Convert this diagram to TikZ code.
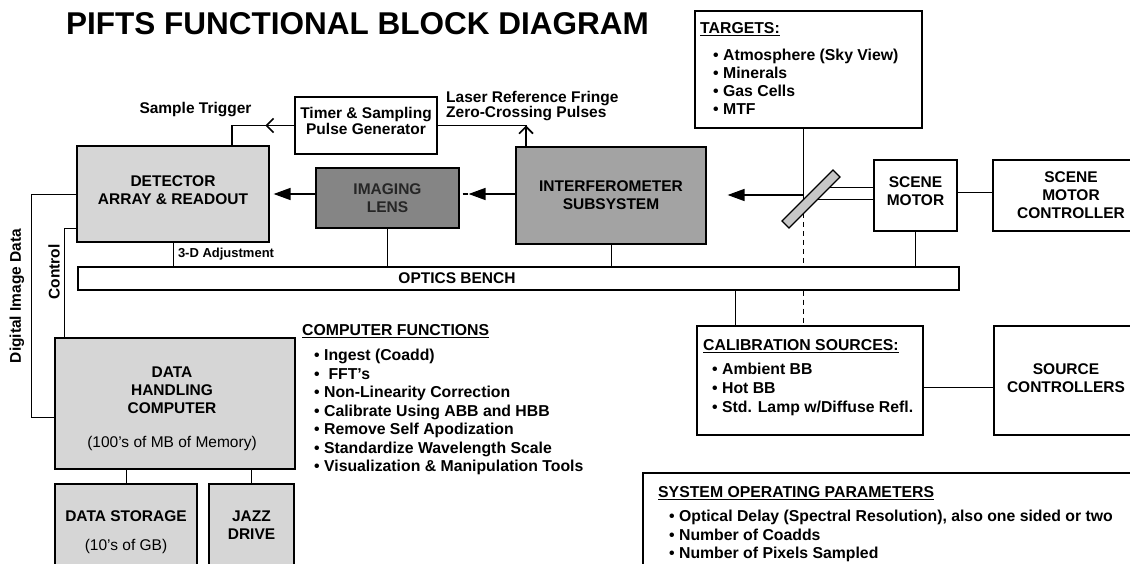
\documentclass[tikz,border=0pt]{standalone}
\usepackage{fontspec}
\setmainfont{Liberation Sans}
\usetikzlibrary{arrows.meta}

\definecolor{panelgray}{gray}{0.84}
\definecolor{lensgray}{gray}{0.52}
\definecolor{lenstext}{gray}{0.15}
\definecolor{interfgray}{gray}{0.64}
\definecolor{mirrorgray}{gray}{0.78}

\begin{document}
\begin{tikzpicture}[x=1pt,y=-1pt,
    box/.style={draw, line width=1.2pt, inner sep=0pt, align=center,
      font=\fontsize{15.5}{18}\selectfont\bfseries},
    txt/.style={inner sep=0pt, align=center, font=\fontsize{15.5}{18}\selectfont\bfseries},
    wire/.style={line width=1pt},
    heavy/.style={line width=1.6pt},
    flow/.style={line width=1.6pt, -{Triangle[length=17pt,width=12pt]}},
    barb/.style={line width=1.6pt, -{Straight Barb[length=7pt,width=14pt]}},
    list/.style={inner sep=0pt, align=left, anchor=north west,
      font=\fontsize{15.8}{18.5}\selectfont\bfseries},
    lbl/.style={inner sep=0pt, font=\fontsize{15.5}{16}\selectfont\bfseries}]
  \useasboundingbox (0,0) rectangle (1130,564);
  \fill[white] (0,0) rectangle (1130,564);
  \clip (0,0) rectangle (1130,564);

  \node[font=\fontsize{31.5}{36}\selectfont\bfseries] (title) at (357.5,24) {PIFTS FUNCTIONAL BLOCK DIAGRAM};

  % blocks
  \node[box, fill=panelgray, minimum width=192pt, minimum height=96pt] (det) at (173,194) {};
  \node[txt] (dettxt) at (173,190.5) {DETECTOR\\ARRAY \& READOUT};
  \node[box, fill=lensgray, text=lenstext, minimum width=143pt, minimum height=60pt] (lens) at (387.5,198) {IMAGING\\LENS};
  \node[box, fill=interfgray, minimum width=190pt, minimum height=97pt] (interf) at (611,195.5) {INTERFEROMETER\\SUBSYSTEM};
  \node[box, minimum width=142pt, minimum height=57pt] (timer) at (366,125.5) {};
  \node[txt, font=\fontsize{15.5}{16}\selectfont\bfseries] (timertxt) at (366,120.5) {Timer \& Sampling\\Pulse Generator};
  \node[box, minimum width=227pt, minimum height=117pt] (tgt) at (808.5,69.5) {};
  \node[box, minimum width=83pt, minimum height=71pt] (scene) at (915.5,195.5) {};
  \node[txt] (scenetxt) at (915.5,191.5) {SCENE\\MOTOR};
  \node[box, minimum width=156pt, minimum height=71pt] (smc) at (1071,195.5) {SCENE\\MOTOR\\CONTROLLER};
  \node[box, minimum width=881pt, minimum height=23pt] (bench) at (518.5,278.5) {};
  \node[box, minimum width=226pt, minimum height=109pt] (calib) at (810,380.5) {};
  \node[box, minimum width=146pt, minimum height=109pt] (srcc) at (1067,380.5) {};
  \node[txt] (srcctxt) at (1066,378) {SOURCE\\CONTROLLERS};
  \node[box, minimum width=497pt, minimum height=107pt] (sop) at (891.5,526.5) {};
  \node[box, fill=panelgray, minimum width=240pt, minimum height=131pt] (dh) at (175,403.5) {};
  \node[txt] (dhtxt) at (172,408.5) {DATA\\HANDLING\\COMPUTER\\[16pt]{\mdseries (100's of MB of Memory)}};
  \node[box, fill=panelgray, minimum width=142pt, minimum height=97pt] (ds) at (126,532.5) {DATA STORAGE\\[11pt]{\mdseries (10's of GB)}};
  \node[box, fill=panelgray, minimum width=85pt, minimum height=83pt] (jazz) at (251.5,525.5) {JAZZ\\DRIVE};

  % texts
  \node[lbl] (benchtxt) at (457,278) {OPTICS BENCH};
  \node[lbl, anchor=base] (trig) at (195.5,113.5) {Sample Trigger};
  \node[lbl, anchor=north west, align=left, font=\fontsize{15.5}{14.5}\selectfont\bfseries] (fringe) at (446,90.6) {Laser Reference Fringe\\Zero-Crossing Pulses};
  \node[lbl, rotate=90] (dig) at (17,296) {Digital Image Data};
  \node[lbl, rotate=90] (ctl) at (54,272) {Control};
  \node[list, font=\fontsize{15.8}{18}\selectfont\bfseries] (tgtlist) at (700,22.5) {\underline{TARGETS:}\\[9pt]\hspace*{13pt}• Atmosphere (Sky View)\\\hspace*{13pt}• Minerals\\\hspace*{13pt}• Gas Cells\\\hspace*{13pt}• MTF};
  \node[list] (cflist) at (302,324.7) {\underline{COMPUTER FUNCTIONS}\\[6.5pt]\hspace*{12pt}• Ingest (Coadd)\\\hspace*{12pt}• \ FFT's\\\hspace*{12pt}• Non-Linearity Correction\\\hspace*{12pt}• Calibrate Using ABB and HBB\\\hspace*{12pt}• Remove Self Apodization\\\hspace*{12pt}• Standardize Wavelength Scale\\\hspace*{12pt}• Visualization \& Manipulation Tools};
  \node[list, font=\fontsize{15.8}{19}\selectfont\bfseries] (callist) at (703,339.7) {\underline{CALIBRATION SOURCES:}\\[5pt]\hspace*{9pt}• Ambient BB\\\hspace*{9pt}• Hot BB\\\hspace*{9pt}• Std. Lamp w/Diffuse Refl.};
  \node[list] (soplist) at (658,486.7) {\underline{SYSTEM OPERATING PARAMETERS}\\[5.5pt]\hspace*{11pt}• Optical Delay (Spectral Resolution), also one sided or two\\\hspace*{11pt}• Number of Coadds\\\hspace*{11pt}• Number of Pixels Sampled};

  % connectors
  \coordinate (trigx) at (232,0);
  \coordinate (fringex) at (526,0);
  \coordinate (hit) at (803,195);
  \coordinate (calx) at (735,0);
  \coordinate (digx) at (31,417);
  \coordinate (ctlx) at (64,0);
  \coordinate (mtop) at (822,188);
  \coordinate (mbot) at (810,200);
  \coordinate (ld) at (lens.east |- det.east);

  \draw[heavy] (timer.west) -| (trigx |- det.north);
  \draw[barb] (timer.west) -- ++(-29,0);
  \draw[heavy] (timer.east) -| (fringex |- interf.north);
  \draw[barb] (fringex |- interf.north) -- (fringex |- timer.east);

  \draw[flow, shorten >=4pt] (lens.west |- det.east) -- (det.east);
  \draw[flow, shorten >=9pt] (interf.west |- det.east) -- (ld);
  \draw[heavy] ([xshift=3pt]ld) -- ++(5,0);
  \draw[flow, shorten >=21pt] (hit) -- (hit -| interf.east);

  \draw[wire] (det.south) -- node[lbl, right, xshift=4.5pt, font=\fontsize{13}{14}\selectfont\bfseries] (adj) {3-D Adjustment} (det.south |- bench.north);
  \draw[wire] (lens.south) -- (lens.south |- bench.north);
  \draw[wire] (interf.south) -- (interf.south |- bench.north);
  \draw[wire] (scene.south) -- (scene.south |- bench.north);
  \draw[wire] (hit |- tgt.south) -- (hit);
  \draw[wire, dash pattern=on 5pt off 4pt] (hit) -- (hit |- bench.north);
  \draw[wire, dash pattern=on 5pt off 4pt] (hit |- bench.south) -- (hit |- calib.north);
  \draw[wire] (calx |- bench.south) -- (calx |- calib.north);
  \draw[wire] (mtop) -- (mtop -| scene.west);
  \draw[wire] (mbot) -- (mbot -| scene.west);
  \draw[wire] (scene.east |- 0,193) -- (smc.west |- 0,193);
  \draw[wire] (calib.east |- 0,387) -- (srcc.west |- 0,387);

  \draw[wire] (det.west |- 0,195) -| (digx) -- (digx -| dh.west);
  \draw[wire] (det.west |- 0,229) -| (ctlx |- dh.north);
  \draw[wire] (ds.north |- dh.south) -- (ds.north);
  \draw[wire] (jazz.north |- dh.south) -- (jazz.north);

  % mirror
  \node[draw, line width=1.2pt, fill=mirrorgray, minimum width=72pt, minimum height=10pt, inner sep=0pt, rotate=45] (mirror) at (811,199) {};
\end{tikzpicture}
\end{document}
